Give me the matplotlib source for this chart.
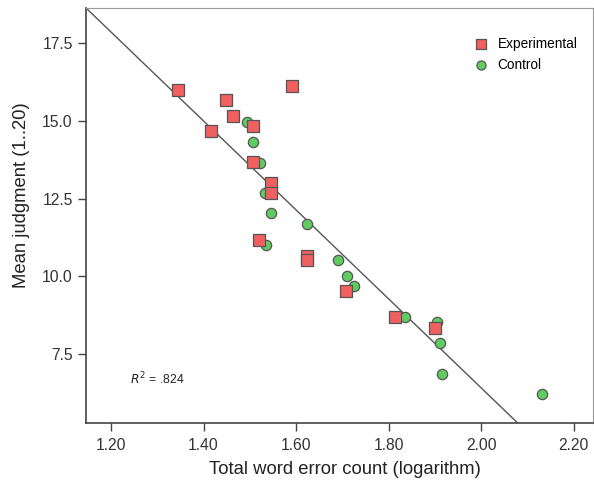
import matplotlib
matplotlib.use("Agg")
import matplotlib.pyplot as plt
import numpy as np

plt.rcParams["font.family"] = ["Liberation Sans", "DejaVu Sans"]

# Experimental group (red squares)
exp_x = [1.345, 1.448, 1.463, 1.417, 1.506, 1.592, 1.506, 1.545, 1.545,
         1.520, 1.624, 1.624, 1.708, 1.814, 1.900]
exp_y = [15.99, 15.67, 15.15, 14.67, 14.83, 16.13, 13.67, 12.99, 12.67,
         11.17, 10.65, 10.52, 9.52, 8.69, 8.35]

# Control group (green circles)
ctl_x = [1.493, 1.506, 1.522, 1.533, 1.545, 1.624, 1.535, 1.691, 1.709,
         1.725, 1.835, 1.905, 1.911, 1.916, 2.132]
ctl_y = [14.97, 14.33, 13.65, 12.67, 12.02, 11.67, 11.00, 10.51, 10.00,
         9.69, 8.68, 8.54, 7.84, 6.85, 6.20]

# fit line as printed in the figure
fit_intercept = 35.03
fit_slope = -14.31
r_squared = ".824"

xticks = [1.20, 1.40, 1.60, 1.80, 2.00, 2.20]
yticks = [7.5, 10.0, 12.5, 15.0, 17.5]

fig = plt.figure(figsize=(5.94, 4.84), dpi=100)
ax = fig.add_axes([0.1448, 0.126, 0.853, 0.8575])

xmin, xmax = 1.146, 2.241
ymin, ymax = 5.28, 18.63
ax.set_xlim(xmin, xmax)
ax.set_ylim(ymin, ymax)

xs = np.array([xmin, xmax])
ax.plot(xs, fit_intercept + fit_slope * xs, color="#555555", lw=1.0, zorder=2)

ax.scatter(ctl_x, ctl_y, s=55, marker="o", facecolor="#60cc60",
           edgecolor="#555555", linewidth=0.9, zorder=3, label="Control")
ax.scatter(exp_x, exp_y, s=70, marker="s", facecolor="#f25f5f",
           edgecolor="#555555", linewidth=0.9, zorder=4, label="Experimental")

ax.set_xticks(xticks)
ax.set_xticklabels([f"{t:.2f}" for t in xticks])
ax.set_yticks(yticks)
ax.set_yticklabels([f"{t:.1f}" for t in yticks])
ax.tick_params(direction="out", length=6, width=1, color="#444444",
               labelsize=11.3, labelcolor="#333333")
ax.tick_params(axis="y", pad=3.6)
ax.tick_params(axis="x", pad=4.5)

for side in ["left", "bottom"]:
    ax.spines[side].set_color("#444444")
    ax.spines[side].set_linewidth(1.2)
for side in ["top", "right"]:
    ax.spines[side].set_color("#999999")
    ax.spines[side].set_linewidth(0.8)

ax.set_xlabel("Total word error count (logarithm)", fontsize=13.3,
              color="#222222")
ax.set_ylabel("Mean judgment (1..20)", fontsize=13.3, color="#222222")
ax.xaxis.set_label_coords(0.511, -0.091)
ax.yaxis.set_label_coords(-0.11, 0.549)

handles, labels = ax.get_legend_handles_labels()
ax.legend(handles[::-1], labels[::-1], loc="upper left",
          bbox_to_anchor=(0.740, 0.96), frameon=False, fontsize=9.8,
          handlelength=1.2, handletextpad=0.58, labelspacing=0.5,
          borderpad=0.4, markerscale=0.88)

ax.text(0.087, 0.107, r"$R^2$ = " + r_squared, transform=ax.transAxes,
        fontsize=8.8, color="#222222", va="center")

fig.savefig("out.png", dpi=100)
